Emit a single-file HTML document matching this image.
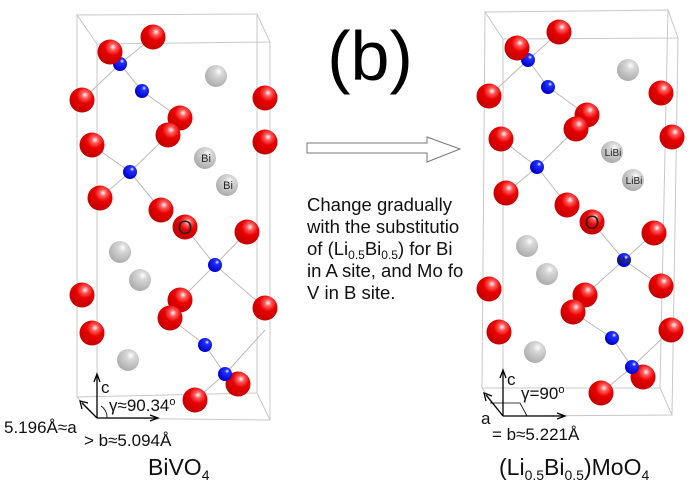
<!DOCTYPE html>
<html><head><meta charset="utf-8"><style>
html,body{margin:0;padding:0;background:#fff;}
svg{display:block;font-family:"Liberation Sans",sans-serif;}
</style></head><body>
<svg width="700" height="483" viewBox="0 0 700 483" xmlns="http://www.w3.org/2000/svg">
<defs>
<radialGradient id="r" cx="0.62" cy="0.3" r="0.75"><stop offset="0" stop-color="#fff"/><stop offset="0.18" stop-color="#ff5a5a"/><stop offset="0.45" stop-color="#e80000"/><stop offset="1" stop-color="#c00000"/></radialGradient>
<radialGradient id="g" cx="0.62" cy="0.3" r="0.75"><stop offset="0" stop-color="#fff"/><stop offset="0.25" stop-color="#d8d8d8"/><stop offset="1" stop-color="#a8a8a8"/></radialGradient>
<radialGradient id="b" cx="0.65" cy="0.3" r="0.7"><stop offset="0" stop-color="#fff"/><stop offset="0.22" stop-color="#2030ff"/><stop offset="1" stop-color="#0000c8"/></radialGradient>
</defs>
<g stroke="#c8c8c8" stroke-width="1" fill="none">
<polyline points="77,15 257,14 270,42 97,44 77,15 77,397 97,418 270,420 257,393 77,397"/>
<line x1="257" y1="14" x2="257" y2="393"/><line x1="97" y1="44" x2="97" y2="418"/><line x1="270" y1="42" x2="270" y2="420"/>
<polyline points="485,12 668,10 678,38 503,39 485,12 482,388 503,416 672,415 660,388 482,388"/>
<line x1="668" y1="10" x2="660" y2="388"/><line x1="503" y1="39" x2="503" y2="416"/><line x1="678" y1="38" x2="672" y2="415"/>
</g>
<g stroke="#bbb" stroke-width="1">
<line x1="120" y1="64" x2="153" y2="37"/><line x1="120" y1="64" x2="82" y2="100"/><line x1="142" y1="91" x2="180" y2="118"/><line x1="120" y1="64" x2="142" y2="91"/>
<line x1="130" y1="172" x2="92" y2="145"/><line x1="130" y1="172" x2="168" y2="135"/><line x1="130" y1="172" x2="100" y2="198"/><line x1="130" y1="172" x2="161" y2="210"/>
<line x1="215" y1="265" x2="185" y2="227"/><line x1="215" y1="265" x2="247" y2="232"/><line x1="215" y1="265" x2="180" y2="300"/><line x1="215" y1="265" x2="265" y2="308"/>
<line x1="205" y1="345" x2="170" y2="318"/><line x1="205" y1="345" x2="225" y2="374"/><line x1="225" y1="374" x2="265" y2="330"/><line x1="225" y1="374" x2="195" y2="400"/>
<line x1="528" y1="60" x2="559" y2="32"/><line x1="528" y1="60" x2="489" y2="96"/><line x1="528" y1="60" x2="548" y2="87"/><line x1="548" y1="87" x2="587" y2="115"/>
<line x1="537" y1="167" x2="501" y2="139"/><line x1="537" y1="167" x2="576" y2="129"/><line x1="537" y1="167" x2="506" y2="193"/><line x1="537" y1="167" x2="567" y2="205"/>
<line x1="624" y1="260" x2="592" y2="222"/><line x1="624" y1="260" x2="654" y2="233"/><line x1="624" y1="260" x2="585" y2="295"/><line x1="624" y1="260" x2="661" y2="286"/>
<line x1="612" y1="338" x2="573" y2="312"/><line x1="612" y1="338" x2="632" y2="367"/><line x1="632" y1="367" x2="671" y2="330"/><line x1="632" y1="367" x2="601" y2="393"/>
</g>
<g fill="url(#g)">
<circle cx="216" cy="76" r="11"/><circle cx="205" cy="158" r="11"/><circle cx="227" cy="185" r="11"/><circle cx="120" cy="252" r="11"/><circle cx="140" cy="280" r="11"/><circle cx="128" cy="360" r="11"/>
<circle cx="628" cy="70" r="11"/><circle cx="612" cy="152" r="11"/><circle cx="633" cy="180" r="11"/><circle cx="527" cy="246" r="11"/><circle cx="547" cy="274" r="11"/><circle cx="535" cy="352" r="11"/>
</g>
<g fill="url(#b)">
<circle cx="120" cy="64" r="7"/><circle cx="142" cy="91" r="7"/><circle cx="130" cy="172" r="7"/><circle cx="215" cy="265" r="7"/><circle cx="205" cy="345" r="7"/>
<circle cx="528" cy="60" r="7"/><circle cx="548" cy="87" r="7"/><circle cx="537" cy="167" r="7"/><circle cx="624" cy="260" r="7"/><circle cx="612" cy="338" r="7"/>
</g>
<g fill="url(#r)">
<circle cx="153" cy="37" r="12.5"/><circle cx="110" cy="52" r="12.5"/><circle cx="82" cy="100" r="12.5"/><circle cx="180" cy="118" r="12.5"/><circle cx="168" cy="135" r="12.5"/><circle cx="92" cy="145" r="12.5"/><circle cx="265" cy="98" r="12.5"/><circle cx="265" cy="142" r="12.5"/><circle cx="100" cy="198" r="12.5"/><circle cx="161" cy="210" r="12.5"/><circle cx="185" cy="227" r="12.5"/><circle cx="247" cy="232" r="12.5"/><circle cx="82" cy="295" r="12.5"/><circle cx="180" cy="300" r="12.5"/><circle cx="170" cy="318" r="12.5"/><circle cx="92" cy="333" r="12.5"/><circle cx="265" cy="308" r="12.5"/><circle cx="238" cy="384" r="12.5"/><circle cx="195" cy="400" r="12.5"/>
<circle cx="559" cy="32" r="12.5"/><circle cx="517" cy="48" r="12.5"/><circle cx="489" cy="96" r="12.5"/><circle cx="587" cy="115" r="12.5"/><circle cx="576" cy="129" r="12.5"/><circle cx="501" cy="139" r="12.5"/><circle cx="661" cy="93" r="12.5"/><circle cx="672" cy="137" r="12.5"/><circle cx="506" cy="193" r="12.5"/><circle cx="567" cy="205" r="12.5"/><circle cx="592" cy="222" r="12.5"/><circle cx="654" cy="233" r="12.5"/><circle cx="489" cy="289" r="12.5"/><circle cx="585" cy="295" r="12.5"/><circle cx="573" cy="312" r="12.5"/><circle cx="499" cy="332" r="12.5"/><circle cx="661" cy="286" r="12.5"/><circle cx="671" cy="330" r="12.5"/><circle cx="643" cy="377" r="12.5"/><circle cx="601" cy="393" r="12.5"/>
</g>
<g fill="url(#b)"><circle cx="225" cy="374" r="7"/><circle cx="632" cy="367" r="7"/></g>
<g font-size="11" fill="#222" text-anchor="middle">
<text x="206" y="162">Bi</text><text x="228" y="189">Bi</text>
<text x="613" y="156" font-size="10">LiBi</text><text x="634" y="184" font-size="10">LiBi</text>
<text x="624" y="264" font-size="10">Mo</text>
<text x="185" y="234" font-size="19">O</text><text x="592" y="229" font-size="19">O</text>
</g>
<text x="370" y="80" font-size="70" text-anchor="middle">(b)</text>
<polygon points="307,143 427,143 427,137 460,149 427,162 427,153 307,153" fill="#fff" stroke="#777" stroke-width="1"/>
<g font-size="18.5" fill="#111">
<text x="307" y="211">Change gradually</text>
<text x="307" y="233">with the substitutio</text>
<text x="307" y="255">of (Li<tspan font-size="12" dy="4">0.5</tspan><tspan dy="-4">Bi</tspan><tspan font-size="12" dy="4">0.5</tspan><tspan dy="-4">) for Bi</tspan></text>
<text x="307" y="277">in A site, and Mo fo</text>
<text x="307" y="299">V in B site.</text>
</g>
<g stroke="#000" stroke-width="1.3" fill="none">
<line x1="97" y1="418" x2="97" y2="376"/><polyline points="94,382 97,374 100,382"/>
<line x1="97" y1="418" x2="156" y2="418"/><polyline points="150,415 158,418 150,421"/>
<line x1="97" y1="418" x2="82" y2="403"/><polyline points="82,409 80,401 88,403"/>
<path d="M107,418 A14,14 0 0 0 101,406" stroke-width="0.8"/>
<line x1="503" y1="416" x2="503" y2="372"/><polyline points="500,378 503,370 506,378"/>
<line x1="503" y1="416" x2="563" y2="416"/><polyline points="557,413 565,416 557,419"/>
<line x1="503" y1="416" x2="486" y2="395"/><polyline points="486,401 484,393 492,396"/>
<polyline points="490,403 520,403 527,416" stroke-width="0.8"/>
</g>
<g font-size="17" fill="#111">
<text x="101" y="393">c</text>
<text x="109" y="411">γ≈90.34<tspan font-size="11" dy="-6">o</tspan></text>
<text x="4" y="433">5.196Å≈a</text>
<text x="84" y="446">&gt; b≈5.094Å</text>
<text x="507" y="385">c</text>
<text x="521" y="399">γ=90<tspan font-size="11" dy="-6">o</tspan></text>
<text x="481" y="424">a</text>
<text x="492" y="440">= b≈5.221Å</text>
</g>
<g font-size="23" fill="#111">
<text x="148" y="475">BiVO<tspan font-size="14" dy="5">4</tspan></text>
<text x="499" y="475">(Li<tspan font-size="14" dy="5">0.5</tspan><tspan dy="-5">Bi</tspan><tspan font-size="14" dy="5">0.5</tspan><tspan dy="-5">)MoO</tspan><tspan font-size="14" dy="5">4</tspan></text>
</g>
</svg>
</body></html>
